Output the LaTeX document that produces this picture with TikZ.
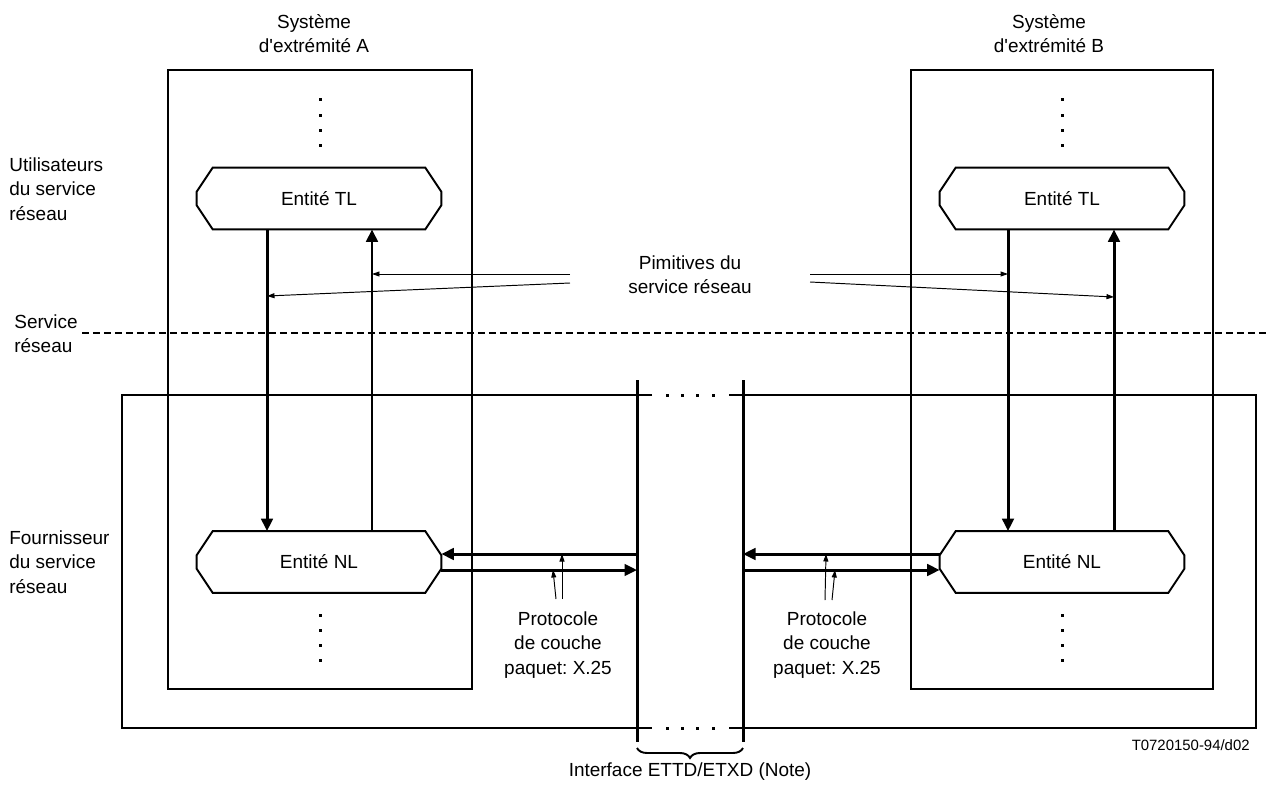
\documentclass[tikz,border=0pt]{standalone}
\usepackage{fontspec}
\setmainfont{Liberation Sans}
\usepackage{tikz}
\usetikzlibrary{arrows.meta}
\usetikzlibrary{decorations.pathreplacing}

\tikzset{
  entite/.style={minimum width=4.88cm,minimum height=1.22cm,inner sep=0pt},
  cadre/.style={line width=1.1pt},
  barre/.style={line width=1.7pt},
  gros/.style={line width=1.7pt,-{Triangle[length=0.25cm,width=0.23cm]}},
  fin/.style={line width=0.55pt,-{Triangle[length=0.15cm,width=0.1cm]}},
  pointille/.style={line width=1.7pt,dash pattern=on 0.14cm off 0.08cm},
}

\begin{document}
\begin{tikzpicture}[x=0.02cm,y=-0.02cm]%
        \useasboundingbox (0,0) rectangle (1270,794);%%
        \begin{scope}
            \tikzstyle{every node}=[inner sep=0pt,font=\fontsize{10.8}{13.9}\selectfont\frenchspacing];%%
            \node[entite] (tlA) at (319,198.5) {Entité TL}; %%
            \node[entite] (nlA) at (319,562) {Entité NL}; %%
            \node[entite] (tlB) at (1062,198.5) {Entité TL}; %%
            \node[entite] (nlB) at (1062,562) {Entité NL}; %%
            \node[align=center] (titA) at (314,33.5) {Système\\d\textquotesingle extrémité A}; %%
            \node[align=center] (titB) at (1049,33.5) {Système\\d\textquotesingle extrémité B}; %%
            \node[align=left,anchor=west] (util) at (9,189) {Utilisateurs\\du service\\réseau}; %%
            \node[align=left,anchor=west] (serv) at (14,334) {Service\\réseau}; %%
            \node[align=left,anchor=west] (fourn) at (9,562) {Fournisseur\\du service\\réseau}; %%
            \node[align=center] (prim) at (690,275) {Pimitives du\\service réseau}; %%
            \node[align=center] (protA) at (558,645) {Protocole\\de couche\\paquet: X.25}; %%
            \node[align=center] (protB) at (827,645) {Protocole\\de couche\\paquet: X.25}; %%
            \node (iface) at (690,772) {Interface ETTD/ETXD (Note)}; %%
            \node[anchor=east,font=\fontsize{8.5}{10}\selectfont] (ref) at (1250,745) {T0720150-94/d02}; %%
        \end{scope}
        % contour des entites
        \foreach \n in {tlA,nlA,tlB,nlB} {%
            \draw[cadre] ([xshift=0.32cm]\n.north west) -- ([xshift=-0.32cm]\n.north east)
                -- ([yshift=-0.48cm]\n.north east) -- ([yshift=0.48cm]\n.south east)
                -- ([xshift=-0.32cm]\n.south east) -- ([xshift=0.32cm]\n.south west)
                -- ([yshift=0.48cm]\n.south west) -- ([yshift=-0.48cm]\n.north west) -- cycle; %%
        }
        % systemes d'extremite
        \draw[cadre] (168,70) rectangle (472,689); %%
        \draw[cadre] (911,70) rectangle (1213,689); %%
        \foreach \y in {100,115,130,145,615,630,645,660} {%
            \fill (320-1.5,\y-1.5) rectangle ++(3,3); %%
            \fill (1062-1.5,\y-1.5) rectangle ++(3,3); %%
        }
        % fournisseur du service reseau
        \draw[cadre] (652,395) -- (122,395) -- (122,728) -- (652,728); %%
        \draw[cadre] (729,395) -- (1256,395) -- (1256,728) -- (729,728); %%
        \foreach \x in {667,682,697,713} {%
            \fill (\x-1.5,395-1.5) rectangle ++(3,3); %%
            \fill (\x-1.5,728-1.5) rectangle ++(3,3); %%
        }
        \draw[barre] (637,380) -- (637,742); %%
        \draw[barre] (743,380) -- (743,742); %%
        \draw[cadre,decorate,decoration={brace,mirror,amplitude=0.2cm}] (637,748) -- (743,748); %%
        % service reseau
        \draw[pointille] (82,333) -- (1270,333); %%
        % primitives
        \coordinate (dnA) at ([xshift=-1.04cm]tlA.south); %%
        \coordinate (upA) at ([xshift=1.06cm]tlA.south); %%
        \coordinate (dnB) at ([xshift=-1.08cm]tlB.south); %%
        \coordinate (upB) at ([xshift=1.04cm]tlB.south); %%
        \draw[gros] (dnA) -- (dnA |- nlA.north); %%
        \draw[gros] (upA |- nlA.north) -- (upA); %%
        \draw[gros] (dnB) -- (dnB |- nlB.north); %%
        \draw[gros] (upB |- nlB.north) -- (upB); %%
        \coordinate (pA1) at (570,274); %%
        \coordinate (pA2) at (570,283); %%
        \coordinate (pB1) at (810,274); %%
        \coordinate (pB2) at (810,282); %%
        \draw[fin] (pA1) -- (upA |- pA1); %%
        \draw[fin] (pA2) -- (dnA |- 0,296); %%
        \draw[fin] (pB1) -- (dnB |- pB1); %%
        \draw[fin] (pB2) -- (upB |- 0,297); %%
        % protocole X.25
        \coordinate (bL1) at (637,554); %%
        \coordinate (bL2) at (637,570); %%
        \coordinate (bR1) at (743,554); %%
        \coordinate (bR2) at (743,570); %%
        \draw[gros] (bL1) -- (nlA.east |- bL1); %%
        \draw[gros] (nlA.east |- bL2) -- (bL2); %%
        \draw[gros] (nlB.west |- bR1) -- (bR1); %%
        \draw[gros] (bR2) -- (nlB.west |- bR2); %%
        \coordinate (qA1) at (556,599); %%
        \coordinate (qA2) at (562,599); %%
        \coordinate (qB1) at (825,600); %%
        \coordinate (qB2) at (832,600); %%
        \draw[fin] (qA1) -- (553,0 |- bL2); %%
        \draw[fin] (qA2) -- (qA2 |- bL1); %%
        \draw[fin] (qB1) -- (826,0 |- bR1); %%
        \draw[fin] (qB2) -- (835,0 |- bR2); %%
\end{tikzpicture}
\end{document}
